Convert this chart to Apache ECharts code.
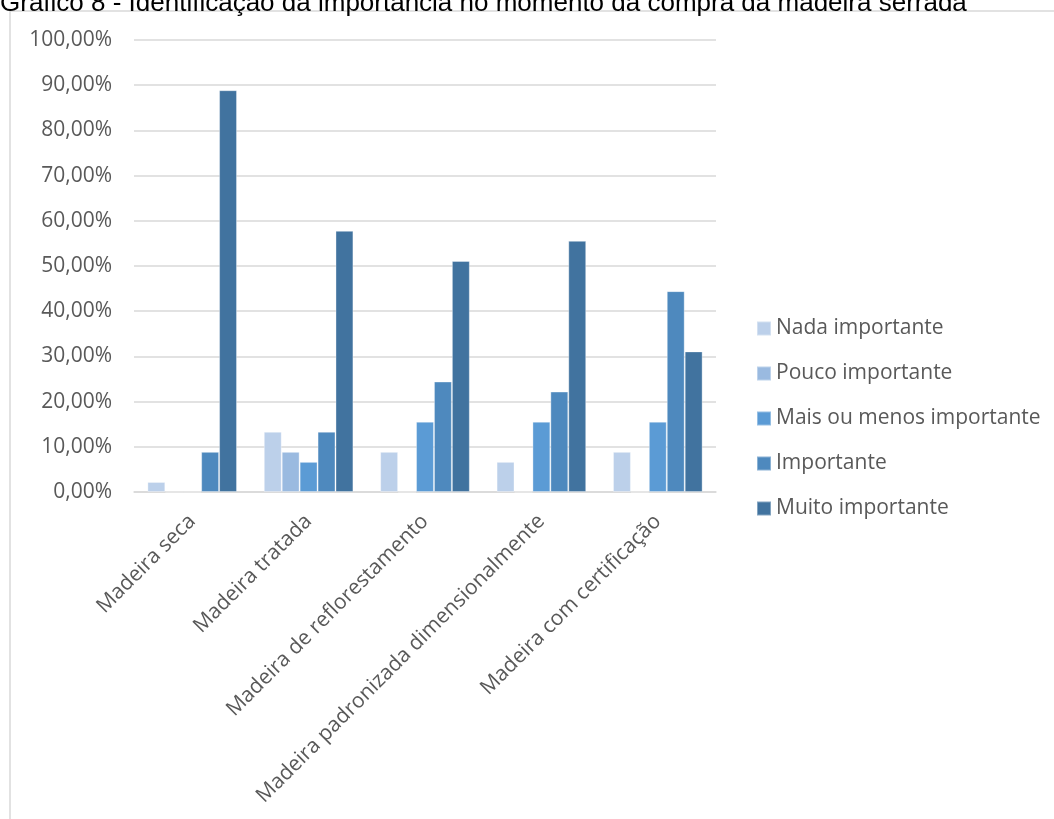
<!DOCTYPE html>
<html>
<head>
<meta charset="utf-8">
<script src="https://cdn.jsdelivr.net/npm/echarts@6/dist/echarts.min.js"></script>
<style>
  html, body { margin: 0; padding: 0; background: #ffffff; }
  #chart { width: 1054px; height: 819px; }
</style>
</head>
<body>
<div id="chart"></div>
<script>
// Categories of sawn timber attributes
const categories = [
  'Madeira seca',
  'Madeira tratada',
  'Madeira de reflorestamento',
  'Madeira padronizada dimensionalmente',
  'Madeira com certificação'
];

// Share of answers (%) per importance level
const nadaImportante = [2.22, 13.33, 8.89, 6.67, 8.89];
const poucoImportante = [0, 8.89, 0, 0, 0];
const maisOuMenos = [0, 6.67, 15.56, 15.56, 15.56];
const importante = [8.89, 13.33, 24.44, 22.22, 44.44];
const muitoImportante = [88.89, 57.78, 51.11, 55.56, 31.11];

const seriesNames = [
  'Nada importante',
  'Pouco importante',
  'Mais ou menos importante',
  'Importante',
  'Muito importante'
];
const seriesData = [nadaImportante, poucoImportante, maisOuMenos, importante, muitoImportante];
const seriesColors = ['#BCD0EA', '#9ABAE0', '#5B9BD5', '#4E89BE', '#41739F'];

const titleText = 'Gráfico 8 - Identificação da importância no momento da compra da madeira serrada';

const chart = echarts.init(document.getElementById('chart'), null, { renderer: 'canvas' });

const fontFamily = '"Open Sans", "Noto Sans", sans-serif';

chart.setOption({
  backgroundColor: '#ffffff',
  animation: false,
  graphic: [
    {
      type: 'rect',
      shape: { x: 10, y: 11, width: 1100, height: 900 },
      style: { fill: 'none', stroke: '#D9D9D9', lineWidth: 1.5 },
      z: 0
    },
    {
      type: 'text',
      left: 0,
      top: -9,
      style: {
        text: titleText,
        font: '26px "Liberation Sans", Arial, sans-serif',
        fill: '#000000'
      },
      z: 10
    }
  ],
  grid: {
    left: 134,
    right: 338,
    top: 40,
    bottom: 327,
    containLabel: false
  },
  legend: {
    orient: 'vertical',
    left: 751,
    top: 313,
    itemWidth: 14,
    itemHeight: 14,
    itemGap: 24,
    icon: 'rect',
    data: seriesNames,
    textStyle: {
      fontFamily: fontFamily,
      fontSize: 21,
      color: '#595959',
      padding: [0, 0, 0, 0]
    }
  },
  xAxis: {
    type: 'category',
    data: categories,
    axisLine: { lineStyle: { color: '#D9D9D9', width: 1.5 } },
    axisTick: { show: false },
    axisLabel: {
      rotate: 45,
      interval: 0,
      margin: 26,
      fontFamily: fontFamily,
      fontSize: 21,
      color: '#595959'
    }
  },
  yAxis: {
    type: 'value',
    min: 0,
    max: 100,
    interval: 10,
    axisLine: { show: false },
    axisTick: { show: false },
    splitLine: { lineStyle: { color: '#D9D9D9', width: 1.5 } },
    axisLabel: {
      margin: 22,
      fontFamily: fontFamily,
      fontSize: 21,
      color: '#595959',
      formatter: function (v) { return v.toFixed(2).replace('.', ',') + '%'; }
    }
  },
  series: seriesNames.map(function (name, i) {
    return {
      name: name,
      type: 'bar',
      data: seriesData[i],
      barGap: '0%',
      barCategoryGap: '23%',
      itemStyle: {
        color: seriesColors[i],
        borderColor: 'rgba(255,255,255,0.35)',
        borderWidth: 1
      }
    };
  })
});
</script>
</body>
</html>
